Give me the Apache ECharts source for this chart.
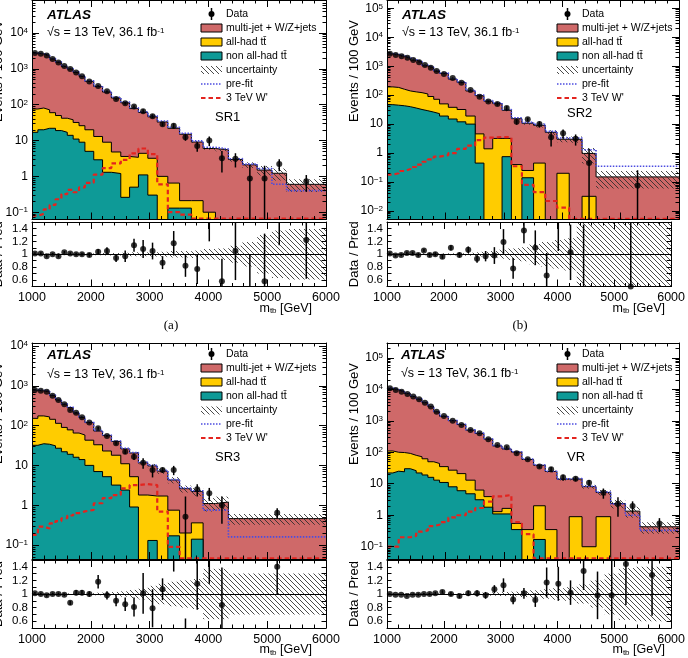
<!DOCTYPE html>
<html>
<head>
<meta charset="utf-8">
<title>m_tb spectra: SR1, SR2, SR3, VR</title>
<script src="https://cdn.jsdelivr.net/npm/echarts@6.0.0/dist/echarts.min.js"></script>
<style>
  html, body { margin: 0; padding: 0; background: #fff; }
  #chart { width: 688px; height: 658px; }
</style>
</head>
<body>
<div id="chart"></div>
<script>
// bin edges in GeV (the last bins are merged in SR2 and SR3)
const binEdges = [1000, 1100, 1200, 1300, 1400, 1500, 1600, 1700, 1800, 1900, 2050, 2200, 2350, 2510, 2660, 2810, 2970, 3130, 3310, 3510, 3710, 3910, 4120, 4340, 4580, 4830, 5080, 5330, 6000];
const sr2Edges = [1000, 1100, 1200, 1300, 1400, 1500, 1600, 1700, 1800, 1900, 2050, 2200, 2350, 2510, 2660, 2810, 2970, 3130, 3310, 3510, 3710, 3910, 4120, 4340, 4580, 6000];
const sr3Edges = [1000, 1100, 1200, 1300, 1400, 1500, 1600, 1700, 1800, 1900, 2050, 2200, 2350, 2510, 2660, 2810, 2970, 3130, 3310, 3510, 3710, 3910, 4120, 4340, 6000];
const ratioLabels = [0.6, 0.8, 1, 1.2, 1.4];

// SR1 (events / 100 GeV); "ttTop" = all-had + non all-had, "bkg" = full stack
const sr1Data = [2800, 2650, 2350, 1900, 1500, 1200, 1000, 800, 620, 445, 335, 237, 145, 110, 89, 66, 48, 28.5, 25.9, 12.4, 7.0, 10, 3.2, 3.1, 0.87, 0.87, 2.2, 0.73];
const sr1Bkg = [2770, 2620, 2420, 1900, 1550, 1165, 990, 800, 620, 450, 322, 226, 154, 113, 78, 61, 46, 33, 22, 15, 9.1, 6.0, 5.5, 2.95, 2.1, 1.5, 1.22, 0.6];
const sr1Prefit = [2800, 2660, 2460, 1950, 1590, 1200, 1020, 830, 645, 465, 335, 236, 162, 119, 82, 64, 49, 35, 23.5, 16, 9.8, 6.5, 5.8, 3.1, 2.2, 1.65, 0.6, 0.4];
const sr1TtTop = [76, 81, 72, 60, 50, 42, 38, 32, 26, 20, 13, 9, 4.8, 3.6, 3.4, 4.4, 3.2, 1.0, 0.65, 0.21, 0.21, 0.1, 0, 0, 0, 0, 0, 0];
const sr1NonAll = [17, 20, 22, 22, 19, 17, 14, 11, 9, 5, 2.9, 1.3, 1.2, 0.26, 0.5, 1.1, 0.3, 0, 0.13, 0.13, 0, 0, 0, 0, 0, 0, 0, 0];
const sr1Wprime = [0.08, 0.09, 0.12, 0.16, 0.23, 0.32, 0.42, 0.36, 0.49, 0.66, 1.12, 1.7, 2.3, 2.9, 4.4, 6.0, 4.2, 0.6, 0.1, 0.085, 0.066, 0.066, 0.066, 0.066, 0.066, 0.066, 0.066, 0.066];
const sr1Unc = [0.01, 0.01, 0.01, 0.01, 0.01, 0.01, 0.01, 0.01, 0.015, 0.015, 0.015, 0.02, 0.02, 0.025, 0.03, 0.03, 0.035, 0.04, 0.05, 0.05, 0.06, 0.08, 0.09, 0.13, 0.19, 0.3, 0.37, 0.39];
const sr1Ratio = [1.01, 1.01, 0.97, 1.0, 0.97, 1.03, 1.01, 1.0, 1.0, 0.99, 1.04, 1.05, 0.94, 0.97, 1.14, 1.08, 1.05, 0.87, 1.17, 0.82, 0.77, 1.7, 0.58, 1.05, 0.41, 0.58, 1.8, 1.22];
const sr1RatioErr = [0.02, 0.02, 0.02, 0.02, 0.02, 0.02, 0.02, 0.025, 0.025, 0.03, 0.04, 0.06, 0.06, 0.09, 0.1, 0.14, 0.13, 0.1, 0.19, 0.17, 0.23, 0.5, 0.35, 0.45, 0.58, 0.74, 0.66, 0.6];

// SR2
const sr2Data = [2700, 2450, 2200, 1950, 1650, 1380, 1100, 880, 680, 540, 395, 270, 150, 89, 60, 50, 36, 12, 14.6, 10, 3.5, 4.8, 3.1, 0.45, 0.075];
const sr2Bkg = [2670, 2500, 2220, 1910, 1620, 1390, 1040, 890, 680, 562, 359, 273, 140, 96, 62, 51, 30, 15.4, 10.7, 9.1, 5.2, 3.0, 3.0, 0.97, 0.15];
const sr2Prefit = [2750, 2580, 2290, 1980, 1690, 1450, 1090, 930, 715, 590, 378, 288, 148, 101, 66, 54, 32, 16.5, 11.5, 9.8, 5.6, 3.3, 3.3, 1.3, 0.35];
const sr2TtTop = [193, 185, 160, 140, 130, 122, 110, 90, 72, 50, 38, 32, 19, 4.6, 1.4, 3.2, 3.2, 0.4, 0.25, 0.45, 0, 0.2, 0, 0.032, 0];
const sr2NonAll = [47, 45, 43, 40, 36, 32, 29, 26, 23, 19, 15, 12, 10, 0.45, 0, 0, 0.75, 0, 0.14, 0, 0, 0, 0, 0, 0];
const sr2Wprime = [0.18, 0.2, 0.24, 0.28, 0.33, 0.4, 0.5, 0.6, 0.75, 0.85, 1.0, 1.4, 1.8, 2.8, 3.4, 3.6, 3.5, 0.35, 0.08, 0.045, 0.022, 0.013, 0.0053, 0.0053, 0.0053];
const sr2Unc = [0.015, 0.015, 0.015, 0.015, 0.015, 0.015, 0.015, 0.015, 0.015, 0.015, 0.015, 0.02, 0.025, 0.03, 0.04, 0.05, 0.07, 0.09, 0.11, 0.16, 0.19, 0.22, 0.25, 0.55, 0.6];
const sr2Ratio = [1.01, 0.98, 0.99, 1.02, 1.02, 0.99, 1.06, 0.99, 1.0, 0.96, 1.10, 0.99, 1.07, 0.93, 0.97, 0.98, 1.19, 0.78, 1.37, 1.10, 0.67, 1.6, 1.03, 0.46, 0.5];
const sr2RatioErr = [0.02, 0.02, 0.02, 0.02, 0.02, 0.025, 0.025, 0.03, 0.03, 0.03, 0.04, 0.04, 0.05, 0.06, 0.08, 0.13, 0.2, 0.16, 0.2, 0.27, 0.35, 0.55, 0.43, 1.0, 1.2];

// SR3
const sr3Data = [783, 745, 713, 565, 440, 342, 246, 211, 162, 119, 86, 55, 36, 22, 16.6, 11.7, 7.7, 7.7, 7.7, 0.51, 2.5, 2.0, 1.0, 0.65];
const sr3Bkg = [775, 745, 728, 565, 440, 345, 283, 207, 159, 119, 73, 56, 40, 26, 20.5, 11.6, 9.7, 7.2, 4.3, 2.6, 2.2, 1.1, 1.2, 0.46];
const sr3Prefit = [800, 770, 750, 585, 455, 355, 292, 213, 164, 123, 76, 58, 41, 27, 21, 12, 10, 7.5, 4.4, 2.7, 2.3, 0.75, 0.75, 0.16];
const sr3TtTop = [152, 175, 165, 144, 114, 90, 78, 65, 58, 43, 33, 23, 18, 11, 5.2, 1.8, 1.7, 1.7, 0.75, 0.2, 0.36, 0, 0, 0];
const sr3NonAll = [32, 35, 34, 31, 27, 22, 19, 16, 14, 10, 7, 5.2, 3.2, 2.4, 0.9, 0, 0.13, 0, 0.17, 0, 0.14, 0, 0, 0];
const sr3Wprime = [0.18, 0.29, 0.26, 0.35, 0.4, 0.47, 0.55, 0.63, 0.7, 0.76, 1.12, 1.5, 1.8, 2.65, 3.2, 3.4, 3.2, 0.69, 0.09, 0.0465, 0.0465, 0.0465, 0.0465, 0.0465];
const sr3Unc = [0.01, 0.01, 0.01, 0.01, 0.01, 0.01, 0.01, 0.01, 0.01, 0.015, 0.02, 0.025, 0.03, 0.04, 0.06, 0.08, 0.12, 0.15, 0.18, 0.2, 0.22, 0.37, 0.37, 0.3];
const sr3Ratio = [1.01, 1.0, 0.98, 1.0, 1.0, 0.99, 0.87, 1.02, 1.02, 1.0, 1.18, 0.98, 0.9, 0.85, 0.81, 1.01, 0.79, 1.07, 1.8, 0.2, 1.15, 1.8, 0.84, 1.4];
const sr3RatioErr = [0.02, 0.02, 0.02, 0.02, 0.02, 0.02, 0.03, 0.04, 0.04, 0.04, 0.1, 0.06, 0.08, 0.1, 0.14, 0.3, 0.28, 0.16, 0.47, 0.44, 0.38, 0.65, 0.55, 0.4];

// VR
const vrData = [10700, 9500, 8400, 7100, 5850, 4800, 3770, 2820, 1950, 1420, 1010, 735, 510, 400, 258, 170, 144, 93, 60, 35, 28.7, 16, 14.5, 10.8, 5.2, 2.3, 1.95, 0.55];
const vrBkg = [10700, 9600, 8480, 7320, 5900, 4850, 3770, 2820, 1930, 1380, 1010, 758, 505, 396, 263, 159, 127, 101, 59, 38.5, 24.5, 13.9, 14.2, 8.1, 5.3, 2.35, 1.35, 0.43];
const vrPrefit = [10900, 9800, 8650, 7470, 6020, 4950, 3850, 2880, 1970, 1410, 1030, 775, 515, 405, 270, 163, 130, 104, 61, 39.5, 25, 14.3, 14.6, 8.3, 5.4, 2.3, 1.0, 0.33];
const vrTtTop = [110, 100, 98, 92, 80, 72, 62, 50, 44, 35, 27, 21, 13, 6.3, 3.9, 1.3, 1.65, 0.55, 0.35, 2.0, 0.35, 0, 0.9, 0.1, 0.9, 0, 0, 0];
const vrNonAll = [22, 25, 24, 30, 26, 22, 19, 16, 13, 11, 8, 6, 4.8, 3.1, 1.8, 1.1, 1.1, 0.35, 0, 0.17, 0, 0, 0, 0, 0, 0, 0, 0];
const vrWprime = [0.1, 0.1, 0.2, 0.2, 0.22, 0.3, 0.33, 0.45, 0.5, 0.6, 0.85, 1.0, 1.3, 1.7, 2.7, 4.0, 4.4, 0.6, 0.25, 0.0425, 0.0425, 0.0425, 0.0425, 0.0425, 0.0425, 0.0425, 0.0425, 0.0425];
const vrUnc = [0.01, 0.01, 0.01, 0.01, 0.01, 0.01, 0.01, 0.01, 0.01, 0.01, 0.01, 0.01, 0.015, 0.015, 0.02, 0.025, 0.03, 0.035, 0.045, 0.055, 0.07, 0.085, 0.1, 0.14, 0.2, 0.3, 0.38, 0.4];
const vrRatio = [1.0, 0.99, 0.99, 0.97, 0.99, 0.99, 1.0, 1.0, 1.01, 1.03, 1.0, 0.97, 1.01, 1.01, 0.98, 1.07, 1.13, 0.92, 1.01, 0.91, 1.17, 1.15, 1.02, 1.34, 0.98, 0.98, 1.44, 1.28];
const vrRatioErr = [0.01, 0.01, 0.01, 0.012, 0.012, 0.015, 0.015, 0.02, 0.02, 0.025, 0.03, 0.03, 0.04, 0.045, 0.05, 0.06, 0.1, 0.07, 0.08, 0.1, 0.22, 0.25, 0.18, 0.28, 0.35, 0.6, 0.6, 0.6];

const FONT = '"Liberation Sans", Arial, Helvetica, sans-serif';
const PINK = '#cf6969', YELLOW = '#ffcc00', TEAL = '#0e9a97', BLUE = '#4c4ce0', RED = '#e3241f';

function makeHatch() {
  const s = 5, c = document.createElement('canvas');
  c.width = s; c.height = s;
  const g = c.getContext('2d');
  g.strokeStyle = '#2b2b2b';
  g.lineWidth = 0.85;
  g.beginPath();
  g.moveTo(-1, -1); g.lineTo(s + 1, s + 1);
  g.moveTo(-1, s - 1); g.lineTo(1, s + 1);
  g.moveTo(s - 1, -1); g.lineTo(s + 1, 1);
  g.stroke();
  return c;
}
const hatch = { image: makeHatch(), repeat: 'repeat' };

const panels = [
  { edges: binEdges, data: sr1Data, bkg: sr1Bkg, prefit: sr1Prefit, tt: sr1TtTop, non: sr1NonAll, sig: sr1Wprime, unc: sr1Unc, ratio: sr1Ratio, rerr: sr1RatioErr,
    left: 32, width: 294, mainTop: -6, mainH: 225.5, ratioTop: 222, ratioH: 64.5, logMin: -1.204, logMax: 4.924,
    region: 'SR1', regionPos: [215, 117], textX: 47, atlasY: 15, sqrtY: 33, legX: 201, legY: [14, 28, 42, 56, 70, 84, 98],
    titleX: -2, eventsTop: 20, sub: '(a)', subPos: [171, 326] },
  { edges: sr2Edges, data: sr2Data, bkg: sr2Bkg, prefit: sr2Prefit, tt: sr2TtTop, non: sr2NonAll, sig: sr2Wprime, unc: sr2Unc, ratio: sr2Ratio, rerr: sr2RatioErr,
    left: 387, width: 292, mainTop: -6, mainH: 225.5, ratioTop: 222, ratioH: 64.5, logMin: -2.296, logMax: 5.288,
    region: 'SR2', regionPos: [567, 113], textX: 402, atlasY: 15, sqrtY: 33, legX: 557, legY: [14, 28, 42, 56, 70, 84, 98],
    titleX: 354, eventsTop: 20, sub: '(b)', subPos: [520, 326] },
  { edges: sr3Edges, data: sr3Data, bkg: sr3Bkg, prefit: sr3Prefit, tt: sr3TtTop, non: sr3NonAll, sig: sr3Wprime, unc: sr3Unc, ratio: sr3Ratio, rerr: sr3RatioErr,
    left: 32, width: 294, mainTop: 343, mainH: 216, ratioTop: 560, ratioH: 68, logMin: -1.352, logMax: 4.075,
    region: 'SR3', regionPos: [215, 457], textX: 47, atlasY: 355, sqrtY: 375, legX: 201, legY: [354, 368, 382, 396, 410.5, 424, 438],
    titleX: -2, eventsTop: 362 },
  { edges: binEdges, data: vrData, bkg: vrBkg, prefit: vrPrefit, tt: vrTtTop, non: vrNonAll, sig: vrWprime, unc: vrUnc, ratio: vrRatio, rerr: vrRatioErr,
    left: 387, width: 292, mainTop: 343, mainH: 216, ratioTop: 560, ratioH: 68, logMin: -1.39, logMax: 5.47,
    region: 'VR', regionPos: [567, 457], textX: 401, atlasY: 355, sqrtY: 374, legX: 557, legY: [354, 368, 382, 396, 410.5, 424, 438],
    titleX: 354.5, eventsTop: 363 }
];

function stepPts(edges, vals) {
  const pts = vals.map((v, i) => [edges[i], v > 0 ? v : 1e-9]);
  pts.push([edges[vals.length], pts[pts.length - 1][1]]);
  return pts;
}
function centers(edges, n) {
  const c = [];
  for (let i = 0; i < n; i++) c.push((edges[i] + edges[i + 1]) / 2);
  return c;
}
function logLabel(v) {
  const e = Math.log10(v), n = Math.round(e);
  if (Math.abs(e - n) > 1e-6) return '';
  if (n === 0) return '1';
  if (n === 1) return '10';
  return '{b|10}{e|' + (n < 0 ? '\u2212' + (-n) : n) + '}';
}

const black = { color: '#000', width: 1 };
const grids = [], xAxes = [], yAxes = [], series = [], graphics = [];

function xAxis(gi, pos, labels) {
  return {
    gridIndex: gi, type: 'value', position: pos, min: 1000, max: 6000, interval: 1000, z: 10,
    axisLine: { show: true, onZero: false, lineStyle: black },
    axisTick: { show: true, inside: true, length: 7, lineStyle: black },
    minorTick: { show: true, splitNumber: 5, length: 3.5, lineStyle: black },
    axisLabel: { show: labels, margin: 5, color: '#000', fontSize: 12.5, fontFamily: FONT, formatter: v => String(v) },
    splitLine: { show: false }
  };
}
function yLog(gi, pos, p, labels) {
  return {
    gridIndex: gi, type: 'log', logBase: 10, position: pos, min: Math.pow(10, p.logMin), max: Math.pow(10, p.logMax), z: 10,
    axisLine: { show: true, onZero: false, lineStyle: black },
    axisTick: { show: true, inside: true, length: 7, lineStyle: black },
    minorTick: { show: true, splitNumber: 9, length: 3.5, lineStyle: black },
    axisLabel: {
      show: labels, margin: 4, showMinLabel: false, showMaxLabel: false, formatter: logLabel,
      color: '#000', fontSize: 12, fontFamily: FONT,
      rich: { b: { fontSize: 12, fontFamily: FONT, color: '#000' }, e: { fontSize: 8, fontFamily: FONT, color: '#000', verticalAlign: 'top', lineHeight: 8 } }
    },
    splitLine: { show: false }
  };
}
function yRatio(gi, pos, labels) {
  return {
    gridIndex: gi, type: 'value', position: pos, min: 0.5, max: 1.5, interval: 0.1, z: 10,
    axisLine: { show: true, onZero: false, lineStyle: black },
    axisTick: { show: true, inside: true, length: 4.5, lineStyle: black },
    axisLabel: {
      show: labels, margin: 4, color: '#000', fontSize: 11.5, fontFamily: FONT,
      formatter: v => { const r = Math.round(v * 10) / 10; return ratioLabels.indexOf(r) >= 0 ? String(r) : ''; }
    },
    splitLine: { show: false }
  };
}

function text(x, y, str, style) {
  return { type: 'text', x: x, y: y, silent: true, z: 100, style: Object.assign({ text: str, fill: '#000', fontFamily: FONT, fontSize: 12, verticalAlign: 'middle' }, style) };
}

// vertical error bar between value(1) and value(2) at value(0)
const errBar = (params, api) => {
  const a = api.coord([api.value(0), api.value(1)]);
  const b = api.coord([api.value(0), api.value(2)]);
  return { type: 'line', shape: { x1: a[0], y1: a[1], x2: b[0], y2: b[1] }, style: { stroke: '#000', lineWidth: 1.5 } };
};
// hatched box from [x0, lo] to [x1, hi]
const bandBox = (params, api) => {
  const a = api.coord([api.value(0), api.value(3)]);
  const b = api.coord([api.value(1), api.value(2)]);
  return { type: 'rect', shape: { x: a[0], y: a[1], width: b[0] - a[0], height: b[1] - a[1] }, style: { fill: hatch } };
};

panels.forEach((p, k) => {
  const gm = 2 * k, gr = 2 * k + 1;
  grids.push({ left: p.left, top: p.mainTop, width: p.width, height: p.mainH });
  grids.push({ left: p.left, top: p.ratioTop, width: p.width, height: p.ratioH });
  const xm = xAxes.length; xAxes.push(xAxis(gm, 'bottom', false), xAxis(gm, 'top', false));
  const xr = xAxes.length; xAxes.push(xAxis(gr, 'bottom', true), xAxis(gr, 'top', false));
  const ym = yAxes.length; yAxes.push(yLog(gm, 'left', p, true), yLog(gm, 'right', p, false));
  const yr = yAxes.length; yAxes.push(yRatio(gr, 'left', true), yRatio(gr, 'right', false));

  const yMin = Math.pow(10, p.logMin), yMax = Math.pow(10, p.logMax);
  const n = p.data.length;
  const xc = centers(p.edges, n);
  const base = { type: 'line', step: 'end', symbol: 'none', showSymbol: false, clip: true, silent: true, animation: false, xAxisIndex: xm, yAxisIndex: ym };

  // background histograms, drawn on top of each other
  series.push(Object.assign({}, base, { data: stepPts(p.edges, p.bkg), z: 1, lineStyle: black, areaStyle: { color: PINK, opacity: 1, origin: 'start' } }));
  series.push(Object.assign({}, base, { data: stepPts(p.edges, p.tt), z: 2, lineStyle: black, areaStyle: { color: YELLOW, opacity: 1, origin: 'start' } }));
  series.push(Object.assign({}, base, { data: stepPts(p.edges, p.non), z: 3, lineStyle: black, areaStyle: { color: TEAL, opacity: 1, origin: 'start' } }));
  // uncertainty band
  const bandMain = p.bkg.map((b, i) => [p.edges[i], p.edges[i + 1], Math.max(b * (1 - p.unc[i]), yMin), Math.min(b * (1 + p.unc[i]), yMax)]);
  series.push({ type: 'custom', xAxisIndex: xm, yAxisIndex: ym, data: bandMain, encode: { x: [0, 1], y: [2, 3] }, renderItem: bandBox, clip: true, z: 4, silent: true, animation: false });
  // pre-fit and signal
  series.push(Object.assign({}, base, { data: stepPts(p.edges, p.prefit), z: 5, lineStyle: { color: BLUE, width: 1.6, type: [1.5, 1.5] } }));
  series.push(Object.assign({}, base, { data: stepPts(p.edges, p.sig), z: 6, lineStyle: { color: RED, width: 2.2, type: [4.5, 3] } }));

  // data with error bars
  const errMain = p.data.map((d, i) => {
    const s = p.rerr[i] * p.bkg[i];
    return [xc[i], Math.max(d - s, yMin), Math.min(d + s, yMax)];
  });
  series.push({ type: 'custom', xAxisIndex: xm, yAxisIndex: ym, data: errMain, encode: { x: 0, y: [1, 2] }, renderItem: errBar, z: 7, silent: true, animation: false });
  series.push({ type: 'scatter', xAxisIndex: xm, yAxisIndex: ym, data: p.data.map((d, i) => [xc[i], d]), symbolSize: 6, itemStyle: { color: '#000' }, z: 8, silent: true, animation: false });

  // ratio panel
  const bandRatio = p.unc.map((u, i) => [p.edges[i], p.edges[i + 1], Math.max(1 - u, 0.5), Math.min(1 + u, 1.5)]);
  series.push({ type: 'custom', xAxisIndex: xr, yAxisIndex: yr, data: bandRatio, encode: { x: [0, 1], y: [2, 3] }, renderItem: bandBox, clip: true, z: 2, silent: true, animation: false });
  const errRatio = [];
  p.ratio.forEach((r, i) => {
    const a = Math.max(r - p.rerr[i], 0.5), b = Math.min(r + p.rerr[i], 1.5);
    if (a < b) errRatio.push([xc[i], a, b]);
  });
  series.push({ type: 'custom', xAxisIndex: xr, yAxisIndex: yr, data: errRatio, encode: { x: 0, y: [1, 2] }, renderItem: errBar, z: 7, silent: true, animation: false });
  series.push({
    type: 'scatter', xAxisIndex: xr, yAxisIndex: yr, symbolSize: 6, itemStyle: { color: '#000' }, z: 8, silent: true, animation: false,
    data: p.ratio.map((r, i) => [xc[i], r]).filter(d => d[1] >= 0.5 && d[1] <= 1.5),
    markLine: { silent: true, symbol: 'none', label: { show: false }, animation: false, lineStyle: { color: '#000', width: 1, type: 'solid' }, data: [{ yAxis: 1 }] }
  });

  // labels
  graphics.push(text(p.textX, p.atlasY, 'ATLAS', { fontSize: 13.5, fontWeight: 'bold', fontStyle: 'italic' }));
  graphics.push(text(p.textX, p.sqrtY, '{n|\u221As = 13 TeV, 36.1 fb}{e|-1}', {
    rich: { n: { fontSize: 12.5, fontFamily: FONT, fill: '#000' }, e: { fontSize: 8, fontFamily: FONT, fill: '#000', verticalAlign: 'top', lineHeight: 8 } }
  }));
  graphics.push(text(p.regionPos[0], p.regionPos[1], p.region, { fontSize: 13 }));

  // legend
  const lx = p.legX, lw = 21, tx = lx + 25, L = p.legY;
  const items = ['Data', 'multi-jet + W/Z+jets', 'all-had t\u0074\u0304', 'non all-had t\u0074\u0304', 'uncertainty', 'pre-fit', "3 TeV W'"];
  items.forEach((s, i) => graphics.push(text(tx, L[i], s, { fontSize: 10.5 })));
  graphics.push({ type: 'line', silent: true, z: 100, shape: { x1: lx + lw / 2, y1: L[0] - 6, x2: lx + lw / 2, y2: L[0] + 6 }, style: { stroke: '#000', lineWidth: 1.5 } });
  graphics.push({ type: 'circle', silent: true, z: 100, shape: { cx: lx + lw / 2, cy: L[0], r: 3 }, style: { fill: '#000' } });
  [[PINK, 1], [YELLOW, 2], [TEAL, 3]].forEach(([c, i]) => graphics.push({ type: 'rect', silent: true, z: 100, shape: { x: lx, y: L[i] - 4, width: lw, height: 8 }, style: { fill: c, stroke: '#000', lineWidth: 1 } }));
  graphics.push({ type: 'rect', silent: true, z: 100, shape: { x: lx, y: L[4] - 4, width: lw, height: 8 }, style: { fill: hatch } });
  graphics.push({ type: 'line', silent: true, z: 100, shape: { x1: lx, y1: L[5], x2: lx + lw, y2: L[5] }, style: { stroke: BLUE, lineWidth: 1.6, lineDash: [1.5, 1.5] } });
  graphics.push({ type: 'line', silent: true, z: 100, shape: { x1: lx, y1: L[6], x2: lx + lw, y2: L[6] }, style: { stroke: RED, lineWidth: 2.2, lineDash: [4.5, 3] } });

  // axis titles
  const evt = text(p.titleX, p.eventsTop, 'Events / 100 GeV', { fontSize: 13, align: 'right' });
  evt.rotation = Math.PI / 2;
  graphics.push(evt);
  const dp = text(p.titleX, p.ratioTop + p.ratioH / 2, 'Data / Pred', { fontSize: 13, align: 'center' });
  dp.rotation = Math.PI / 2;
  graphics.push(dp);
  graphics.push(text(p.left + p.width - 14, p.ratioTop + p.ratioH + 22, '{n|m}{s|tb}{n| [GeV]}', {
    align: 'right',
    rich: { n: { fontSize: 12.5, fontFamily: FONT, fill: '#000' }, s: { fontSize: 8, fontFamily: FONT, fill: '#000', verticalAlign: 'bottom', lineHeight: 8 } }
  }));
  if (p.sub) graphics.push(text(p.subPos[0], p.subPos[1], p.sub, { fontSize: 13, fontFamily: '"Liberation Serif", "Times New Roman", serif', align: 'center' }));
});

const chart = echarts.init(document.getElementById('chart'));
chart.setOption({
  animation: false,
  backgroundColor: '#fff',
  grid: grids,
  xAxis: xAxes,
  yAxis: yAxes,
  series: series,
  graphic: { elements: graphics }
});
</script>
</body>
</html>
